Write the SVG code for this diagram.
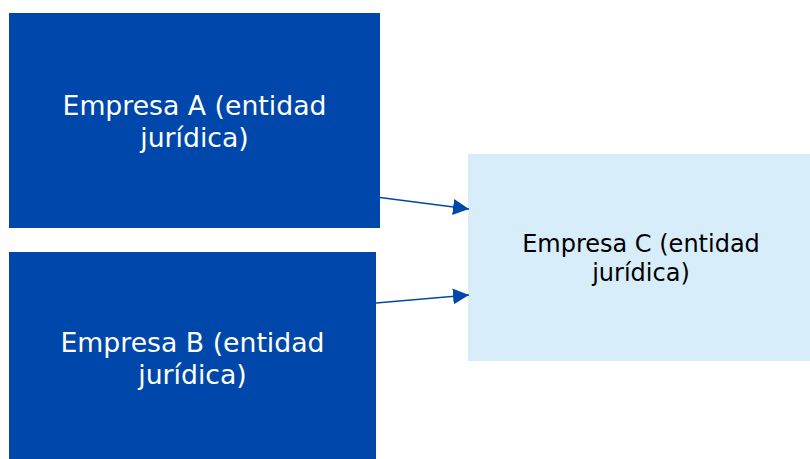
<svg xmlns="http://www.w3.org/2000/svg" width="810" height="459" viewBox="0 0 810 459">
<style>
.dark{fill:#0047AB}
.light{fill:#D7EDF9}
.tw{font-family:"DejaVu Sans","Liberation Sans",sans-serif;font-size:26.7px;fill:#FFFFFF;text-anchor:middle}
.tb{font-family:"DejaVu Sans","Liberation Sans",sans-serif;font-size:24px;fill:#000000;text-anchor:middle}
.conn{stroke:#0047AB;stroke-width:1.3;fill:none;marker-end:url(#ah)}
</style>
<defs>
<marker id="ah" markerUnits="userSpaceOnUse" markerWidth="17" markerHeight="16" refX="16" refY="8" orient="auto">
<path d="M0,0 L16,8 L0,16 Z" fill="#0047AB"/>
</marker>
</defs>
<rect width="810" height="459" fill="#FFFFFF"/>
<g id="nodeA">
<rect class="dark" x="9" y="13" width="371" height="215"/>
<text class="tw" x="194.5" y="115">Empresa A (entidad</text>
<text class="tw" x="194.5" y="147">jurídica)</text>
</g>
<g id="nodeB">
<rect class="dark" x="9" y="252" width="367" height="207"/>
<text class="tw" x="192.5" y="352">Empresa B (entidad</text>
<text class="tw" x="192.5" y="384">jurídica)</text>
</g>
<g id="nodeC">
<rect class="light" x="468" y="154" width="342" height="207"/>
<text class="tb" x="641" y="252">Empresa C (entidad</text>
<text class="tb" x="641" y="281">jurídica)</text>
</g>
<g id="connectors">
<line class="conn" x1="380" y1="197.5" x2="469" y2="209"/>
<line class="conn" x1="376" y1="303" x2="469" y2="295"/>
</g>
</svg>
